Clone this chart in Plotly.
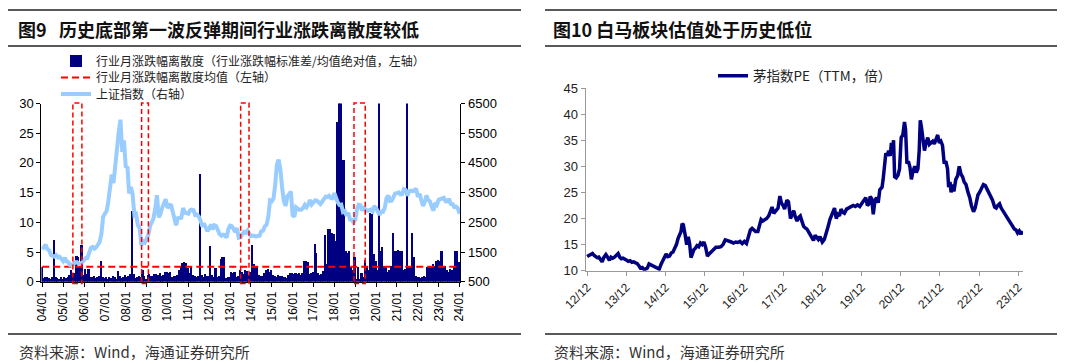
import plotly.graph_objects as go
import pandas as pd

# ---------------- data: left chart ----------------
months = pd.date_range("2004-01-01", "2024-01-01", freq="MS")

dispersion = [
    # 2004
    2.6, 0.7, 0.8, 0.9, 0.7, 0.6, 0.8, 7.1, 0.9, 0.7, 0.6, 0.8,
    # 2005
    0.6, 0.8, 0.7, 0.9, 1.2, 2.0, 1.6, 1.5, 4.4, 4.2, 2.8, 6.2,
    # 2006
    1.2, 2.3, 1.4, 2.3, 0.8, 0.9, 1.1, 0.7, 0.9, 1.0, 3.6, 0.9,
    # 2007
    0.7, 0.8, 0.6, 0.9, 0.7, 1.1, 0.8, 0.6, 1.9, 1.0, 0.7, 0.8,
    # 2008
    1.2, 0.9, 1.0, 1.3, 12.0, 1.4, 0.7, 0.9, 1.1, 0.8, 2.0, 1.0,
    # 2009
    0.5, 1.2, 1.3, 1.0, 1.1, 1.4, 1.3, 1.2, 1.5, 1.0, 1.2, 1.8,
    # 2010
    1.8, 1.6, 1.8, 0.9, 1.0, 1.1, 1.2, 2.0, 2.5, 3.2, 3.4, 3.2,
    # 2011
    2.4, 1.6, 2.5, 1.2, 1.0, 0.8, 1.1, 18.2, 1.2, 0.9, 1.3, 1.0,
    # 2012
    1.1, 6.1, 1.2, 0.8, 2.4, 0.9, 1.0, 3.9, 4.2, 4.2, 0.7, 0.9,
    # 2013
    0.8, 1.7, 1.6, 1.7, 0.9, 1.0, 2.0, 1.8, 1.4, 2.1, 1.9, 1.2,
    # 2014
    1.7, 6.2, 3.0, 2.5, 2.6, 1.2, 1.1, 1.0, 1.5, 2.0, 2.2, 1.8,
    # 2015
    2.0, 1.2, 1.0, 0.9, 1.2, 1.0, 1.1, 0.8, 0.9, 0.7, 1.2, 1.5,
    # 2016
    1.5, 1.3, 1.6, 1.4, 1.5, 1.2, 1.6, 3.6, 3.6, 3.4, 1.3, 1.6,
    # 2017
    1.8, 6.4, 4.9, 1.5, 1.2, 1.4, 1.9, 7.9, 3.0, 9.0, 8.9, 8.3,
    # 2018
    8.1, 7.0, 26.9, 32.0, 31.0, 20.5, 20.5, 5.3, 5.0, 5.3, 2.5, 2.0,
    # 2019
    4.2, 0.5, 2.5, 0.6, 1.5, 0.8, 3.8, 2.8, 2.0, 11.6, 11.4, 4.8,
    # 2020
    3.5, 2.0, 33.0, 5.3, 5.9, 2.8, 2.5, 1.8, 2.0, 2.8, 8.2, 5.3,
    # 2021
    5.3, 5.4, 5.3, 5.2, 2.0, 2.2, 34.0, 2.5, 2.5, 8.2, 4.2, 1.0,
    # 2022
    0.8, 0.9, 0.7, 0.8, 1.0, 0.9, 2.5, 2.8, 2.6, 3.0, 2.8, 3.6,
    # 2023
    3.8, 3.6, 5.3, 2.5, 2.8, 2.0, 1.8, 2.2, 2.0, 2.5, 5.3, 5.2,
    # 2024
    3.4,
]

sse_index = [
    1590, 1675, 1742, 1595, 1555, 1399, 1386, 1342, 1396, 1320, 1340, 1266,
    1191, 1306, 1181, 1159, 1060, 1080, 1083, 1162, 1155, 1092, 1099, 1161,
    1258, 1299, 1298, 1440, 1641, 1672, 1612, 1658, 1752, 1837, 2099, 2675,
    2786, 2881, 3183, 3841, 4109, 3820, 4471, 5218, 5552, 5954, 4871, 5262,
    4383, 4348, 3473, 3693, 3433, 2736, 2775, 2397, 2293, 1729, 1871, 1821,
    1991, 2082, 2373, 2477, 2632, 2959, 3412, 2667, 2779, 2996, 3195, 3277,
    2989, 3051, 3110, 2870, 2592, 2398, 2638, 2639, 2656, 2979, 2820, 2808,
    2791, 2905, 2928, 2911, 2743, 2762, 2701, 2568, 2359, 2468, 2333, 2199,
    2292, 2428, 2263, 2397, 2373, 2225, 2103, 2048, 2086, 2069, 1980, 2269,
    2385, 2366, 2237, 2178, 2301, 1979, 1994, 2098, 2175, 2141, 2220, 2116,
    2033, 2056, 2033, 2026, 2039, 2048, 2202, 2217, 2364, 2420, 2683, 3235,
    3210, 3310, 3748, 4442, 4612, 4277, 3664, 3206, 3053, 3383, 3446, 3539,
    2738, 2688, 3004, 2938, 2917, 2930, 2979, 3085, 3005, 3100, 3250, 3104,
    3159, 3242, 3223, 3155, 3117, 3192, 3273, 3361, 3349, 3393, 3317, 3307,
    3481, 3259, 3169, 3082, 3095, 2847, 2876, 2725, 2821, 2603, 2588, 2494,
    2585, 2941, 3091, 3078, 2899, 2979, 2933, 2886, 2905, 2929, 2872, 3050,
    2977, 2880, 2750, 2860, 2852, 2985, 3310, 3396, 3218, 3225, 3392, 3473,
    3483, 3509, 3442, 3447, 3615, 3591, 3397, 3544, 3568, 3547, 3564, 3640,
    3361, 3463, 3252, 3047, 3186, 3399, 3253, 3202, 3024, 2893, 3151, 3089,
    3255, 3280, 3273, 3323, 3205, 3202, 3291, 3120, 3110, 3018, 3030, 2975,
    2789,
]

dispersion_mean = 2.5

# highlighted rebound windows (start, end)
box_starts = ["2005-06-20", "2008-10-05", "2013-07-05", "2018-12-10"]
box_ends = ["2005-11-25", "2009-02-01", "2013-11-28", "2019-06-25"]

# ---------------- data: right chart ----------------
pe_dates = [
    "2012-12-01", "2012-12-15", "2013-01-01", "2013-01-20", "2013-02-05", "2013-02-20", "2013-03-05", "2013-03-20",
    "2013-04-05", "2013-04-20", "2013-05-05", "2013-05-25", "2013-06-10", "2013-06-27", "2013-07-12", "2013-07-28",
    "2013-08-13", "2013-08-30", "2013-09-16", "2013-10-01", "2013-10-16", "2013-11-01", "2013-11-18", "2013-12-05",
    "2013-12-20", "2014-01-05", "2014-01-22", "2014-02-08", "2014-02-25", "2014-03-11", "2014-03-27", "2014-04-12",
    "2014-04-28", "2014-05-13", "2014-05-29", "2014-06-15", "2014-07-01", "2014-07-18", "2014-08-02", "2014-08-18",
    "2014-09-03", "2014-09-19", "2014-10-04", "2014-10-20", "2014-11-06", "2014-11-22", "2014-12-07", "2014-12-22",
    "2015-01-08", "2015-01-24", "2015-02-09", "2015-02-25", "2015-03-13", "2015-03-29", "2015-04-13", "2015-04-25",
    "2015-05-05", "2015-05-16", "2015-06-01", "2015-06-17", "2015-07-01", "2015-07-14", "2015-07-27", "2015-08-10",
    "2015-08-22", "2015-09-06", "2015-09-21", "2015-10-07", "2015-10-23", "2015-11-08", "2015-11-24", "2015-12-10",
    "2015-12-27", "2016-01-12", "2016-01-29", "2016-02-15", "2016-03-15", "2016-04-10", "2016-05-01", "2016-05-20",
    "2016-06-10", "2016-06-25", "2016-07-15", "2016-08-05", "2016-08-25", "2016-09-15", "2016-10-05", "2016-10-25",
    "2016-11-15", "2016-12-05", "2016-12-25", "2017-01-15", "2017-01-30", "2017-02-15", "2017-03-01", "2017-03-20",
    "2017-04-10", "2017-04-25", "2017-05-10", "2017-05-25", "2017-06-15", "2017-07-01", "2017-07-20", "2017-08-05",
    "2017-08-20", "2017-09-05", "2017-09-25", "2017-10-15", "2017-11-01", "2017-11-15", "2017-12-01", "2017-12-15",
    "2018-01-05", "2018-01-20", "2018-02-08", "2018-02-25", "2018-03-10", "2018-03-25", "2018-04-10", "2018-04-25",
    "2018-05-10", "2018-05-25", "2018-06-10", "2018-06-25", "2018-07-10", "2018-07-25", "2018-08-10", "2018-08-25",
    "2018-09-10", "2018-09-25", "2018-10-10", "2018-10-25", "2018-11-10", "2018-12-01", "2018-12-20", "2019-01-05",
    "2019-01-25", "2019-02-10", "2019-02-25", "2019-03-10", "2019-03-25", "2019-04-10", "2019-04-25", "2019-05-10",
    "2019-05-25", "2019-06-10", "2019-06-25", "2019-07-15", "2019-08-05", "2019-08-25", "2019-09-15", "2019-10-05",
    "2019-10-25", "2019-11-15", "2019-12-05", "2019-12-25", "2020-01-10", "2020-01-25", "2020-02-10", "2020-02-20",
    "2020-03-05", "2020-03-20", "2020-04-05", "2020-04-20", "2020-05-05", "2020-05-20", "2020-06-10", "2020-06-20",
    "2020-07-05", "2020-07-15", "2020-07-28", "2020-08-10", "2020-08-25", "2020-09-05", "2020-09-15", "2020-09-25",
    "2020-10-05", "2020-10-20", "2020-11-05", "2020-11-20", "2020-12-05", "2020-12-20", "2021-01-05", "2021-01-15",
    "2021-01-28", "2021-02-10", "2021-02-25", "2021-03-10", "2021-03-25", "2021-04-10", "2021-04-25", "2021-05-10",
    "2021-05-22", "2021-06-01", "2021-06-12", "2021-06-25", "2021-07-10", "2021-07-25", "2021-08-10", "2021-08-25",
    "2021-09-10", "2021-09-25", "2021-10-10", "2021-10-25", "2021-11-10", "2021-11-25", "2021-12-10", "2021-12-25",
    "2022-01-10", "2022-01-25", "2022-02-10", "2022-02-20", "2022-03-05", "2022-03-15", "2022-03-28", "2022-04-10",
    "2022-04-28", "2022-05-15", "2022-05-30", "2022-06-15", "2022-06-30", "2022-07-15", "2022-08-01", "2022-08-20",
    "2022-09-05", "2022-09-20", "2022-10-10", "2022-10-25", "2022-11-05", "2022-11-20", "2022-12-05", "2022-12-25",
    "2023-01-10", "2023-01-28", "2023-02-15", "2023-03-01", "2023-03-20", "2023-04-05", "2023-04-25", "2023-05-10",
    "2023-05-25", "2023-06-10", "2023-06-25", "2023-07-10", "2023-07-25", "2023-08-10", "2023-08-25", "2023-09-10",
    "2023-09-25", "2023-10-10", "2023-10-25", "2023-11-10", "2023-11-25", "2023-12-10", "2023-12-25", "2024-01-10",
]
pe_values = [
    12.7, 12.9, 13.1, 13.3, 12.9, 12.7, 12.5, 12.6,
    12.2, 11.7, 12.5, 13.1, 12.6, 12.0, 12.6, 12.4,
    12.6, 12.9, 13.3, 12.6, 12.3, 12.4, 12.1, 12.0,
    11.8, 11.9, 11.6, 11.7, 11.5, 11.4, 11.0, 10.5,
    10.6, 10.3, 10.3, 10.5, 11.3, 11.1, 10.9, 10.8,
    10.6, 10.5, 10.3, 11.2, 12.0, 12.6, 13.2, 12.7,
    12.8, 13.4, 13.6, 14.3, 15.0, 16.2, 16.8, 17.5,
    19.0, 18.8, 17.0, 15.0, 16.5, 15.2, 12.5, 13.6,
    14.0, 14.3, 14.8, 14.6, 15.3, 15.0, 15.5, 14.5,
    12.8, 13.2, 13.5, 13.8, 14.5, 14.5, 14.6, 15.0,
    15.9, 15.8, 15.7, 15.5, 15.3, 15.5, 15.4, 15.6,
    15.2, 15.6, 15.2, 16.5, 17.8, 18.1, 17.8, 17.5,
    17.5, 19.0, 19.8, 19.5, 19.8, 20.0, 20.5, 21.5,
    22.2, 21.0, 21.5, 22.0, 24.3, 23.0, 22.5, 21.8,
    23.5, 23.2, 20.0, 21.0, 21.5, 20.3, 19.5, 20.2,
    20.5, 19.5, 18.5, 18.2, 18.0, 17.5, 17.0, 16.5,
    15.8, 16.8, 16.5, 16.0, 16.5, 15.5, 16.0, 17.0,
    18.5, 19.8, 20.5, 21.0, 22.0, 20.0, 20.8, 20.5,
    21.8, 21.2, 21.0, 21.8, 22.0, 22.3, 22.5, 22.3,
    22.6, 22.3, 23.0, 23.5, 24.0, 22.5, 22.8, 24.2,
    23.8, 20.8, 23.5, 24.0, 23.0, 25.5, 26.0, 27.5,
    30.0, 32.5, 32.0, 33.0, 32.0, 34.5, 33.0, 35.0,
    28.0, 27.8, 28.3, 29.5, 35.5, 36.0, 38.5, 37.0,
    30.5, 31.0, 29.8, 27.5, 29.0, 30.0, 28.8, 29.5,
    33.0, 38.8, 37.5, 35.0, 33.0, 34.5, 35.5, 34.2,
    34.5, 34.8, 34.3, 35.0, 36.0, 34.5, 34.8, 34.0,
    30.5, 31.0, 29.5, 26.0, 27.0, 25.0, 26.5, 25.2,
    27.5, 28.2, 30.0, 28.5, 28.0, 27.0, 26.5, 25.0,
    24.0, 22.5, 21.3, 22.0, 23.5, 24.5, 25.0, 26.0,
    26.5, 26.3, 25.5, 25.0, 24.0, 23.5, 22.2, 22.0,
    22.5, 22.8, 22.0, 21.5, 21.0, 20.3, 20.0, 19.5,
    19.0, 18.5, 18.0, 17.8, 17.2, 17.6, 17.0, 17.6,
]

# ---------------- styling ----------------
# the page body has an 8px margin, so the figure is sized to fill the rest of the window
PAGE_OFF = 8
W, H = 1080 - PAGE_OFF, 364 - PAGE_OFF
NAVY = "#000080"
RED = "#FF0000"
SKY = "#99CCFF"
CJK = "Noto Sans CJK SC"
NUM = "Liberation Sans, Arial, sans-serif"


def px(x):
    """page pixel x -> paper fraction"""
    return (x - PAGE_OFF) / W


def py(y):
    """page pixel y (from top) -> paper fraction"""
    return 1 - (y - PAGE_OFF) / H


fig = go.Figure()

fig.add_trace(go.Bar(
    x=months, y=dispersion,
    name="行业月涨跌幅离散度（行业涨跌幅标准差/均值绝对值，左轴）",
    marker=dict(color=NAVY, line=dict(width=0)),
    width=31 * 24 * 3600 * 1000,
    xaxis="x", yaxis="y", legend="legend",
))
fig.add_trace(go.Scatter(
    x=[months[0], months[-1]], y=[dispersion_mean, dispersion_mean],
    mode="lines", name="行业月涨跌幅离散度均值（左轴）",
    line=dict(color=RED, width=2, dash="7px,4px"),
    xaxis="x", yaxis="y", legend="legend2",
))
fig.add_trace(go.Scatter(
    x=months, y=sse_index, mode="lines", name="上证指数（右轴）",
    line=dict(color=SKY, width=4),
    xaxis="x", yaxis="y2", legend="legend3",
))
fig.add_trace(go.Scatter(
    x=pe_dates, y=pe_values, mode="lines", name="茅指数PE（TTM，倍）",
    line=dict(color=NAVY, width=3.5),
    xaxis="x2", yaxis="y3", legend="legend4",
))

shapes = []
# header / footer rules
for (xa, xb) in [(8, 521), (545, 1057)]:
    for yy in (10, 46):
        shapes.append(dict(type="line", xref="paper", yref="paper", x0=px(xa), x1=px(xb),
                           y0=py(yy), y1=py(yy), line=dict(color="#222222", width=1.5)))
    shapes.append(dict(type="line", xref="paper", yref="paper", x0=px(xa), x1=px(xb),
                       y0=py(334), y1=py(334), line=dict(color="#222222", width=1.5)))
# red dashed rebound windows (x in data, y spanning the plot height)
for s, e in zip(box_starts, box_ends):
    shapes.append(dict(type="rect", xref="x", yref="paper", x0=s, x1=e, y0=py(283.5), y1=py(103),
                       line=dict(color=RED, width=1.5, dash="5px,3px"), fillcolor="rgba(0,0,0,0)"))

annotations = [
    dict(text="<b>图9   历史底部第一波反弹期间行业涨跌离散度较低</b>", x=px(16), y=py(29),
         xref="paper", yref="paper", xanchor="left", yanchor="middle", showarrow=False,
         font=dict(family=CJK, size=18, color="#111111")),
    dict(text="<b>图10 白马板块估值处于历史低位</b>", x=px(551), y=py(29),
         xref="paper", yref="paper", xanchor="left", yanchor="middle", showarrow=False,
         font=dict(family=CJK, size=18, color="#111111")),
    dict(text="资料来源：Wind，海通证券研究所", x=px(17), y=py(351),
         xref="paper", yref="paper", xanchor="left", yanchor="middle", showarrow=False,
         font=dict(family=CJK, size=15, color="#333333")),
    dict(text="资料来源：Wind，海通证券研究所", x=px(552), y=py(351),
         xref="paper", yref="paper", xanchor="left", yanchor="middle", showarrow=False,
         font=dict(family=CJK, size=15, color="#333333")),
]

legend_common = dict(xanchor="left", yanchor="middle", bgcolor="rgba(0,0,0,0)",
                     borderwidth=0, font=dict(family=CJK, size=12, color="#222222"))

axis_common = dict(showgrid=False, zeroline=False, automargin=False, ticks="outside", ticklen=4,
                   showline=True, linewidth=1)

fig.update_layout(
    width=W, height=H,
    margin=dict(l=0, r=0, t=0, b=0, autoexpand=False),
    paper_bgcolor="white", plot_bgcolor="white",
    bargap=0,
    showlegend=True,
    shapes=shapes, annotations=annotations,
    legend=dict(x=px(56), y=py(61), **legend_common),
    legend2=dict(x=px(56), y=py(77.5), **legend_common),
    legend3=dict(x=px(56), y=py(94), **legend_common),
    legend4=dict(x=px(713), y=py(76), xanchor="left", yanchor="middle", bgcolor="rgba(0,0,0,0)",
                 borderwidth=0, font=dict(family=CJK, size=13.5, color="#222222")),
    xaxis=dict(
        domain=[px(41.4), px(460.4)], anchor="y", type="date",
        range=["2003-12-17", "2024-01-16"],
        tick0="2004-01-01", dtick="M12", tickformat="%y/%m", tickangle=-90,
        tickcolor="black", linecolor="black",
        tickfont=dict(family=NUM, size=12, color="black"), **axis_common,
    ),
    yaxis=dict(
        domain=[py(281.7), py(103.5)], anchor="x", range=[0, 30], dtick=5,
        tickcolor="black", linecolor="black",
        tickfont=dict(family=NUM, size=13, color="black"), **axis_common,
    ),
    yaxis2=dict(
        overlaying="y", side="right", anchor="x", range=[500, 6500], tick0=500, dtick=1000,
        tickcolor="black", linecolor="black",
        tickfont=dict(family=NUM, size=13, color="black"), **axis_common,
    ),
    xaxis2=dict(
        domain=[px(585.5), px(1023)], anchor="y3", type="date",
        range=["2012-11-16", "2024-01-14"],
        tick0="2012-12-01", dtick="M12", tickformat="%y/%m", tickangle=-45,
        tickcolor="#999999", linecolor="#999999",
        tickfont=dict(family=NUM, size=12, color="#222222"), **axis_common,
    ),
    yaxis3=dict(
        domain=[py(270.7), py(88)], anchor="x2", range=[10, 45], dtick=5,
        tickcolor="#999999", linecolor="#999999",
        tickfont=dict(family=NUM, size=13, color="#222222"), **axis_common,
    ),
)

fig.write_html("out.html")
